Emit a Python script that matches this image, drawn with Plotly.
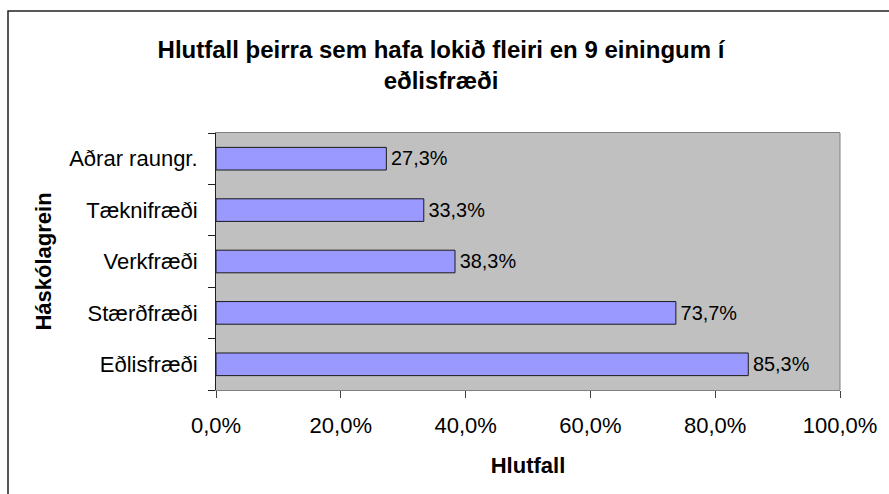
import plotly.graph_objects as go

categories = ["Eðlisfræði", "Stærðfræði", "Verkfræði", "Tæknifræði", "Aðrar raungr."]
values = [85.3, 73.7, 38.3, 33.3, 27.3]
x_ticks = [0, 20, 40, 60, 80, 100]
x_tick_text = ["0,0%", "20,0%", "40,0%", "60,0%", "80,0%", "100,0%"]

W, H = 889, 494
L, R, T, B = 216, 46, 133, 104
PW, PH = W - L - R, H - T - B

def px_x(p):
    return (p - L) / PW

def px_y(p):
    return (H - B - p) / PH

FONT = "Liberation Sans, Arial, sans-serif"
FS = 22

fig = go.Figure()
fig.add_trace(go.Bar(
    y=categories,
    x=values,
    orientation="h",
    marker=dict(color="#9999FF", line=dict(color="#1a1a1a", width=1)),
    text=["\u200a" + f"{v:.1f}%".replace(".", ",") for v in values],
    textposition="outside",
    textfont=dict(family=FONT, size=FS, color="black"),
    cliponaxis=False,
    hoverinfo="skip",
))

fig.update_layout(
    width=W, height=H,
    margin=dict(l=L, r=R, t=T, b=B, pad=0),
    paper_bgcolor="white",
    plot_bgcolor="#C0C0C0",
    bargap=0.56,
    showlegend=False,
    font=dict(family=FONT, size=FS, color="black"),
    title=dict(
        text="<b>Hlutfall þeirra sem hafa lokið fleiri en 9 einingum í<br>eðlisfræði</b>",
        x=441 / W, xref="container", xanchor="center",
        y=1 - 58 / H, yref="container", yanchor="top",
        font=dict(family=FONT, size=24, color="black"),
    ),
    xaxis=dict(
        range=[0, 100],
        tickvals=x_ticks,
        ticktext=x_tick_text,
        ticks="outside", ticklen=7, tickcolor="#404040",
        showgrid=False, zeroline=False,
        showline=True, linecolor="#808080", linewidth=1, mirror=True,
        tickfont=dict(family=FONT, size=FS, color="black"),
        ticklabelstandoff=9,
        title=dict(text="<b>Hlutfall</b>", font=dict(family=FONT, size=FS, color="black"), standoff=20),
        fixedrange=True,
    ),
    yaxis=dict(
        type="category",
        categoryorder="array", categoryarray=categories,
        ticks="outside", ticklen=7, tickcolor="#202020",
        tickson="boundaries",
        showgrid=False, zeroline=False,
        showline=True, linecolor="#202020", linewidth=1,
        tickfont=dict(family=FONT, size=FS, color="black"),
        ticklabelstandoff=13,
        title=dict(text="<b>Háskólagrein</b>", font=dict(family=FONT, size=FS, color="black"), standoff=11),
        fixedrange=True,
    ),
    shapes=[
        dict(type="line", xref="paper", yref="paper", x0=1, x1=1, y0=0, y1=1,
             line=dict(color="#808080", width=1)),
        dict(type="rect", xref="paper", yref="paper",
             x0=px_x(7), x1=px_x(905), y0=px_y(11), y1=px_y(510),
             line=dict(color="#222222", width=1.5), fillcolor="rgba(0,0,0,0)", layer="above"),
    ],
)

fig.write_html(
    "out.html",
    config={"displayModeBar": False},
    post_script="document.body.style.margin='0';document.body.style.overflow='hidden';",
)
